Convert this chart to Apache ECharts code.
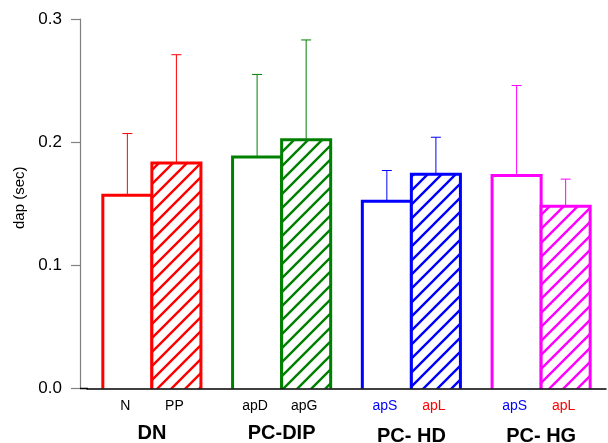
<!DOCTYPE html>
<html><head><meta charset="utf-8">
<script src="https://cdn.jsdelivr.net/npm/echarts@6/dist/echarts.min.js"></script>
<style>html,body{margin:0;padding:0;background:#fff}#c{width:608px;height:443px}</style>
</head><body><div id="c"></div>
<script>
// ---- data ----
const groups = ['DN', 'PC-DIP', 'PC- HD', 'PC- HG'];
const leftLabels = ['N', 'apD', 'apS', 'apS'];
const rightLabels = ['PP', 'apG', 'apL', 'apL'];
const leftValues = [0.157, 0.188, 0.152, 0.173];
const rightValues = [0.183, 0.202, 0.174, 0.148];
const leftSD = [0.050, 0.067, 0.025, 0.073];
const rightSD = [0.088, 0.081, 0.030, 0.022];
const yTicks = [0, 0.1, 0.2, 0.3];

// ---- styles ----
const groupColors = ['#ff0000', '#008000', '#0000ff', '#ff00ff'];
const leftLabelColors = ['#000', '#000', '#0000ff', '#0000ff'];
const rightLabelColors = ['#000', '#000', '#ff0000', '#ff0000'];
const FONT = '"Liberation Sans", Arial, Helvetica, sans-serif';

function makePattern(color) {
  const s = 14, c = document.createElement('canvas');
  c.width = s; c.height = s;
  const ctx = c.getContext('2d');
  ctx.fillStyle = '#fff'; ctx.fillRect(0, 0, s, s);
  ctx.strokeStyle = color; ctx.lineWidth = 2.4;
  ctx.beginPath();
  ctx.moveTo(-3, s + 3); ctx.lineTo(s + 3, -3);
  ctx.moveTo(-3, 3); ctx.lineTo(3, -3);
  ctx.moveTo(s - 3, s + 3); ctx.lineTo(s + 3, s - 3);
  ctx.stroke();
  return c;
}
const patterns = groupColors.map(makePattern);

const data = [];
groups.forEach((g, i) => {
  data.push([i, leftValues[i], leftSD[i], 0]);
  data.push([i, rightValues[i], rightSD[i], 1]);
});

function renderItem(params, api) {
  const idx = api.value(0), v = api.value(1), sd = api.value(2), side = api.value(3);
  const base = api.coord([idx, 0]);
  const top = api.coord([idx, v]);
  const errY = api.coord([idx, v + sd])[1];
  const band = api.size([1, 0])[0];
  const w = band * 0.378;
  const x0 = side === 0 ? base[0] - w : base[0];
  const x1 = x0 + w;
  const yB = base[1], yT = top[1];
  const cx = (x0 + x1) / 2;
  const col = groupColors[idx];
  const fill = side === 0 ? '#fff' : { image: patterns[idx], repeat: 'repeat' };
  return {
    type: 'group',
    children: [
      { type: 'rect', shape: { x: x0, y: yT, width: w, height: yB - yT }, style: { fill: fill } },
      { type: 'line', shape: { x1: cx, y1: yT, x2: cx, y2: errY }, style: { stroke: col, lineWidth: 1 } },
      { type: 'line', shape: { x1: cx - 5, y1: errY, x2: cx + 5, y2: errY }, style: { stroke: col, lineWidth: 1 } },
      { type: 'polyline', shape: { points: [[x0, yB], [x0, yT], [x1, yT], [x1, yB]] }, style: { stroke: col, lineWidth: 3, fill: null } },
      { type: 'text', x: cx - 2, y: yB + 18, style: {
          text: side === 0 ? leftLabels[idx] : rightLabels[idx],
          fill: side === 0 ? leftLabelColors[idx] : rightLabelColors[idx],
          font: '14px ' + FONT, align: 'center', verticalAlign: 'middle' } }
    ]
  };
}

const chart = echarts.init(document.getElementById('c'), null, { renderer: 'canvas' });
chart.setOption({
  animation: false,
  backgroundColor: '#fff',
  grid: { left: 87, right: 2, top: 19, bottom: 54.5, containLabel: false, outerBoundsMode: 'none' },
  xAxis: {
    type: 'category', data: groups, z: 10,
    axisLine: { lineStyle: { color: '#000', width: 1.5 } },
    axisTick: { show: false },
    axisLabel: {
      margin: 35, interval: 0,
      formatter: (v) => (v.indexOf('- ') >= 0 ? '{b|' + v + '}' : '{a|' + v + '}'),
      rich: {
        a: { fontSize: 20, fontWeight: 'bold', color: '#000', fontFamily: FONT },
        b: { fontSize: 20, fontWeight: 'bold', color: '#000', fontFamily: FONT, padding: [3, 0, 0, 0] }
      }
    },
    splitLine: { show: false }
  },
  yAxis: {
    type: 'value', min: yTicks[0], max: yTicks[yTicks.length - 1], interval: 0.1,
    offset: 7,
    name: 'dap (sec)', nameLocation: 'middle', nameGap: 52,
    nameTextStyle: { fontSize: 15, color: '#000', fontFamily: FONT, padding: [0, 0, 0, 12] },
    axisLine: { show: true, lineStyle: { color: '#808080', width: 1.2 } },
    axisTick: { show: true, inside: false, length: 9, lineStyle: { color: '#808080', width: 1.2 } },
    axisLabel: { formatter: (v) => v.toFixed(1), fontSize: 17, color: '#000', margin: 18, fontFamily: FONT },
    splitLine: { show: false }
  },
  graphic: [
    { type: 'line', z: 100, shape: { x1: 80, y1: 388.5, x2: 88, y2: 388.5 }, style: { stroke: '#000', lineWidth: 1.5 } }
  ],
  series: [{
    type: 'custom',
    renderItem: renderItem,
    encode: { x: 0, y: 1 },
    data: data,
    clip: false
  }]
});
</script>
</body></html>
